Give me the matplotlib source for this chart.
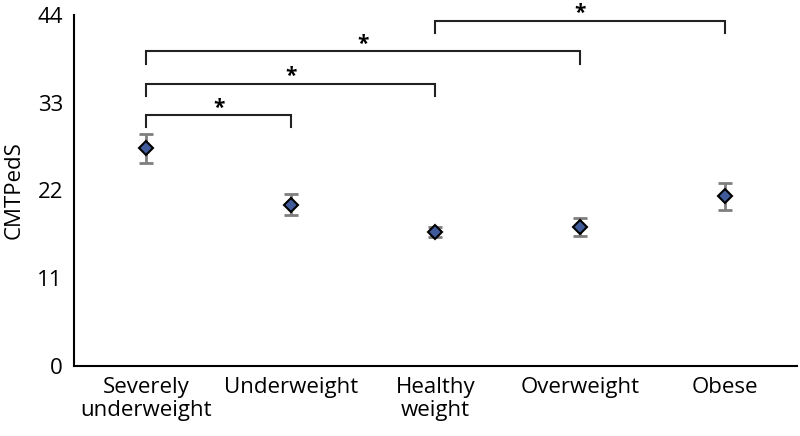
import matplotlib
matplotlib.use('Agg')
import matplotlib.pyplot as plt

plt.rcParams['font.family'] = ['Open Sans', 'DejaVu Sans']

########## podatki #############################################################

kategorije = ['Severely\nunderweight', 'Underweight', 'Healthy\nweight', 'Overweight', 'Obese']
povprecja = [27.3, 20.2, 16.8, 17.4, 21.3]
napake = [1.8, 1.3, 0.6, 1.15, 1.7]

# pari skupin s signifikantno razliko: (od, do, visina oklepaja)
pari_od = [0, 0, 0, 2]
pari_do = [1, 2, 3, 4]
visine = [31.5, 35.4, 39.5, 43.3]

y_ticki = [0, 11, 22, 33, 44]

################################################################################

fig = plt.figure(figsize=(8, 4.36), dpi=100)
ax = fig.add_axes([0.0925, 0.1606, 0.9035, 0.805])

x = list(range(len(kategorije)))
ax.errorbar(x, povprecja, yerr=napake, fmt='none', ecolor='#7f7f7f',
            elinewidth=2, capsize=5, capthick=2, zorder=2)
ax.plot(x, povprecja, 'D', markersize=7.5, markerfacecolor='#3f5b99',
        markeredgecolor='black', markeredgewidth=1.5, zorder=3)

# oklepaji z zvezdicami
noga = 1.6
for a, b, h in zip(pari_od, pari_do, visine):
    ax.plot([a, a, b, b], [h - noga, h, h, h - noga], color='#222222',
            lw=1.5, clip_on=False, solid_joinstyle='miter')
    ax.text((a + b) / 2, h + 0.15, '*', ha='center', va='baseline',
            fontsize=15, fontweight='bold', clip_on=False)

ax.set_xlim(-0.5, 4.5)
ax.set_ylim(0, 44)
ax.set_yticks(y_ticki)
ax.set_xticks(x)
ax.set_xticklabels(kategorije, linespacing=1.12)
ax.tick_params(axis='both', length=0, labelsize=16)
ax.tick_params(axis='x', pad=8)
ax.tick_params(axis='y', pad=8)
ax.set_ylabel('CMTPedS', fontsize=16, labelpad=9)

for s in ['top', 'right']:
    ax.spines[s].set_visible(False)
for s in ['left', 'bottom']:
    ax.spines[s].set_linewidth(1.5)
    ax.spines[s].set_color('black')

plt.savefig('out.png', dpi=100)
